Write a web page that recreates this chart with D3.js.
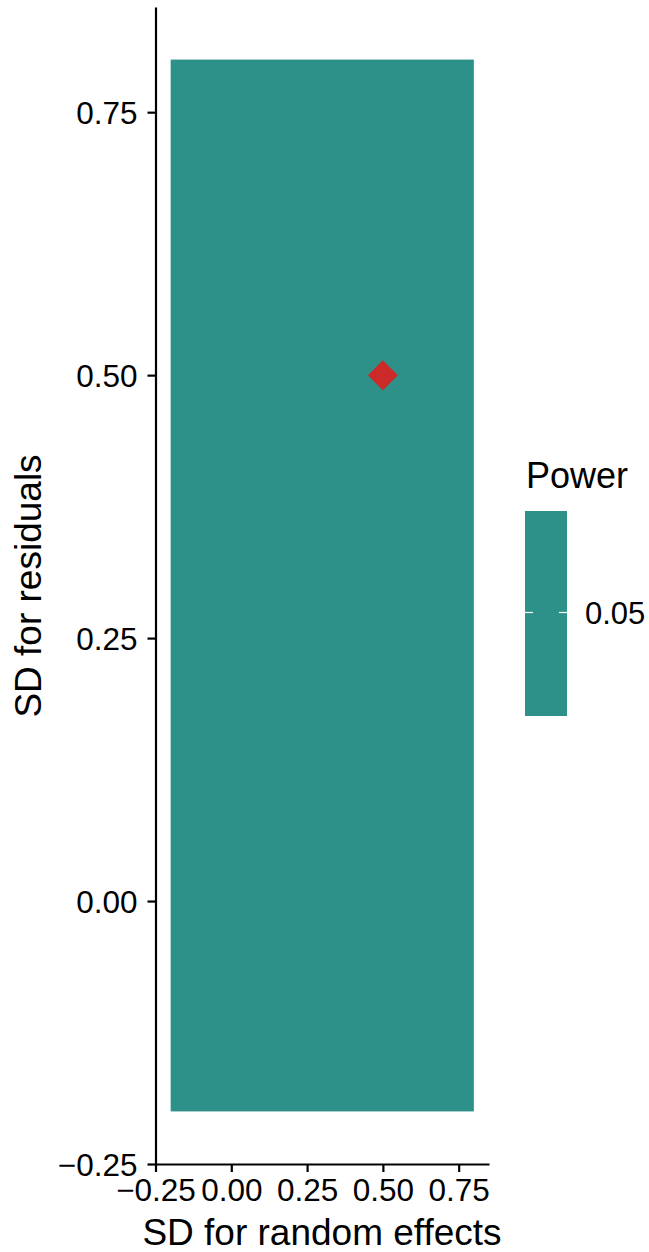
<!DOCTYPE html>
<html><head><meta charset="utf-8">
<script src="https://cdn.jsdelivr.net/npm/d3@7"></script>
<style>body{margin:0;background:#fff}text{font-family:"Liberation Sans",Arial,sans-serif}</style>
</head><body><svg id="c" width="649" height="1252"></svg>
<script>
// Data
const tileX = [0.3];          // tile centres (SD for random effects)
const tileY = [0.3];          // tile centres (SD for residuals)
const tileW = [1.0];
const tileH = [1.0];
const tilePower = [0.05];
const pointX = [0.5];
const pointY = [0.5];
const xTicks = [-0.25, 0, 0.25, 0.5, 0.75];
const yTicks = [-0.25, 0, 0.25, 0.5, 0.75];
const legendTicks = [0.05];

const svg = d3.select("#c");
const x = d3.scaleLinear().domain([-0.25, 0.85]).range([155.5, 489]);
const y = d3.scaleLinear().domain([-0.25, 0.85]).range([1164, 7]);
const fill = "#2D9089";

const tiles = tileX.map((d,i)=>({x:d,y:tileY[i],w:tileW[i],h:tileH[i],p:tilePower[i]}));
svg.selectAll("rect.tile").data(tiles).join("rect").attr("class","tile")
  .attr("x", d=>x(d.x-d.w/2)).attr("y", d=>y(d.y+d.h/2))
  .attr("width", d=>x(d.x+d.w/2)-x(d.x-d.w/2)).attr("height", d=>y(d.y-d.h/2)-y(d.y+d.h/2))
  .attr("fill", fill);

svg.selectAll("path.pt").data(pointX.map((d,i)=>({x:d,y:pointY[i]}))).join("path").attr("class","pt")
  .attr("transform", d=>`translate(${x(d.x)},${y(d.y)})`)
  .attr("d","M0,-15L15,0L0,15L-15,0Z").attr("fill","#CC2A29");

const fmt = d3.format(".2f");
const minusFmt = d => fmt(d).replace("-", "\u2212");

const xa = svg.append("g").attr("transform","translate(0,1164)")
  .call(d3.axisBottom(x).tickValues(xTicks).tickFormat(minusFmt).tickSize(8).tickSizeOuter(0).tickPadding(6));
const ya = svg.append("g").attr("transform","translate(155.5,0)")
  .call(d3.axisLeft(y).tickValues(yTicks).tickFormat(minusFmt).tickSize(8).tickSizeOuter(0).tickPadding(10));
[xa, ya].forEach(a=>{
  a.attr("font-size", null).attr("font-family", null);
  a.select(".domain").attr("stroke","#000").attr("stroke-width",2.2);
  a.selectAll(".tick line").attr("stroke","#000").attr("stroke-width",2.2);
  a.selectAll(".tick text").attr("fill","#000").style("font-size","31.5px").style("font-family","Liberation Sans, Arial, sans-serif");
});
xa.selectAll(".tick text").attr("dy","0.72em");
ya.selectAll(".tick text").attr("dy","0.35em");

svg.append("text").attr("x",322).attr("y",1245).attr("text-anchor","middle")
  .style("font-size","37px").text("SD for random effects");
svg.append("text").attr("transform","translate(41,586) rotate(-90)").attr("text-anchor","middle")
  .style("font-size","37px").text("SD for residuals");

// Legend
svg.append("text").attr("x",526).attr("y",488).style("font-size","36px").text("Power");
const lg = d3.scaleLinear().domain([0.04, 0.06]).range([716, 511]);
svg.append("rect").attr("x",525).attr("y",511).attr("width",42).attr("height",205).attr("fill",fill);
legendTicks.forEach(t=>{
  svg.append("line").attr("x1",525).attr("x2",533).attr("y1",lg(t)-1).attr("y2",lg(t)-1).attr("stroke","#fff").attr("stroke-width",1.2);
  svg.append("line").attr("x1",559).attr("x2",567).attr("y1",lg(t)-1).attr("y2",lg(t)-1).attr("stroke","#fff").attr("stroke-width",1.2);
  svg.append("text").attr("x",585).attr("y",lg(t)).attr("dy","0.35em").style("font-size","31px").text(fmt(t));
});
</script></body></html>
